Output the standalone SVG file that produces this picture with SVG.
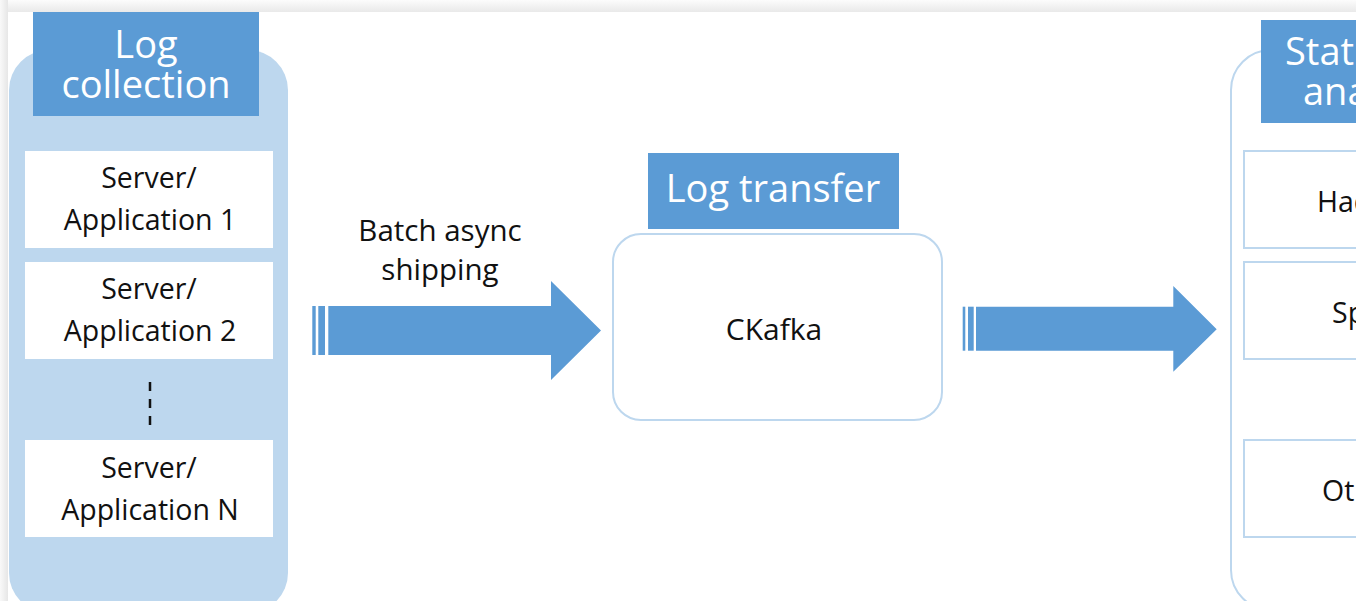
<svg xmlns="http://www.w3.org/2000/svg" width="1367" height="601" viewBox="0 0 1367 601">
<defs>
<style>
.hdr{fill:#5b9bd5}
.ht{font-family:"Open Sans","Liberation Sans",sans-serif;font-size:38px;fill:#ffffff;text-anchor:middle}
.t{font-family:"Open Sans","Liberation Sans",sans-serif;font-size:28.5px;fill:#111111;text-anchor:middle}
.box{fill:#ffffff}
.obox{fill:#ffffff;stroke:#bdd7ee;stroke-width:2}
.arr{fill:#5b9bd5}
</style>
<linearGradient id="gTop" x1="0" y1="0" x2="0" y2="1">
<stop offset="0" stop-color="#fcfcfc"/>
<stop offset="1" stop-color="#e9e9e9"/>
</linearGradient>
<linearGradient id="gLeft" x1="0" y1="0" x2="1" y2="0">
<stop offset="0" stop-color="#f9f9f9"/>
<stop offset="1" stop-color="#e6e6e6"/>
</linearGradient>
<clipPath id="card"><rect x="0" y="0" width="1356" height="601"/></clipPath>
</defs>
<rect width="1367" height="601" fill="#ffffff"/>
<rect x="0" y="0" width="1356" height="12" fill="url(#gTop)"/>
<rect x="0" y="0" width="8" height="601" fill="url(#gLeft)"/>
<rect x="8" y="12" width="1348" height="589" fill="#ffffff"/>

<g id="log-collection">
<rect x="9" y="50" width="279" height="563" rx="40" fill="#bdd7ee"/>
<rect class="hdr" x="33" y="12" width="226" height="104"/>
<text class="ht" x="146" y="58">Log<tspan x="146" y="98">collection</tspan></text>
</g>
<g id="app1">
<rect class="box" x="25" y="151" width="248" height="97"/>
<text class="t" x="149" y="188">Server/<tspan x="150" y="230">Application 1</tspan></text>
</g>
<g id="app2">
<rect class="box" x="25" y="262" width="248" height="97"/>
<text class="t" x="149" y="299">Server/<tspan x="150" y="341">Application 2</tspan></text>
</g>
<g id="ellipsis">
<line x1="150" y1="382" x2="150" y2="429" stroke="#111111" stroke-width="2.5" stroke-dasharray="9,8"/>
</g>
<g id="appN">
<rect class="box" x="25" y="440" width="248" height="97"/>
<text class="t" x="149" y="478">Server/<tspan x="150" y="520">Application N</tspan></text>
</g>

<g id="log-transfer">
<rect class="hdr" x="648" y="153" width="251" height="76"/>
<text class="ht" x="773" y="202">Log transfer</text>
<rect class="obox" x="613" y="234" width="329" height="186" rx="28"/>
<text class="t" x="774" y="340" style="font-size:30px">CKafka</text>
</g>

<g id="analysis" clip-path="url(#card)">
<rect x="1231" y="50" width="200" height="560" rx="40" fill="#ffffff" stroke="#bdd7ee" stroke-width="2"/>
<rect class="hdr" x="1261" y="20" width="140" height="103"/>
<text class="ht" x="1285" y="65" style="text-anchor:start">Stat<tspan x="1303" y="105">ana</tspan></text>
<rect class="obox" x="1244" y="151" width="160" height="97"/>
<text class="t" x="1317" y="212" style="text-anchor:start">Had</text>
<rect class="obox" x="1244" y="262" width="160" height="97"/>
<text class="t" x="1332" y="323" style="text-anchor:start">Sp</text>
<rect class="obox" x="1244" y="440" width="160" height="97"/>
<text class="t" x="1322" y="501" style="text-anchor:start">Oth</text>
</g>

<g id="connectors">
<text class="t" x="440" y="241" style="font-size:29.5px">Batch async<tspan x="440" y="280">shipping</tspan></text>
<rect class="arr" x="312.3" y="306" width="3.4" height="49"/>
<rect class="arr" x="318.3" y="306" width="6.7" height="49"/>
<polygon class="arr" points="328.3,306 551,306 551,281 601,330.5 551,380 551,355 328.3,355"/>
<rect class="arr" x="962.7" y="306.7" width="2.6" height="44"/>
<rect class="arr" x="968" y="306.7" width="5.7" height="44"/>
<polygon class="arr" points="976,306.7 1173.3,306.7 1173.3,286 1216.7,329.3 1173.3,371.7 1173.3,350.7 976,350.7"/>
</g>
</svg>
